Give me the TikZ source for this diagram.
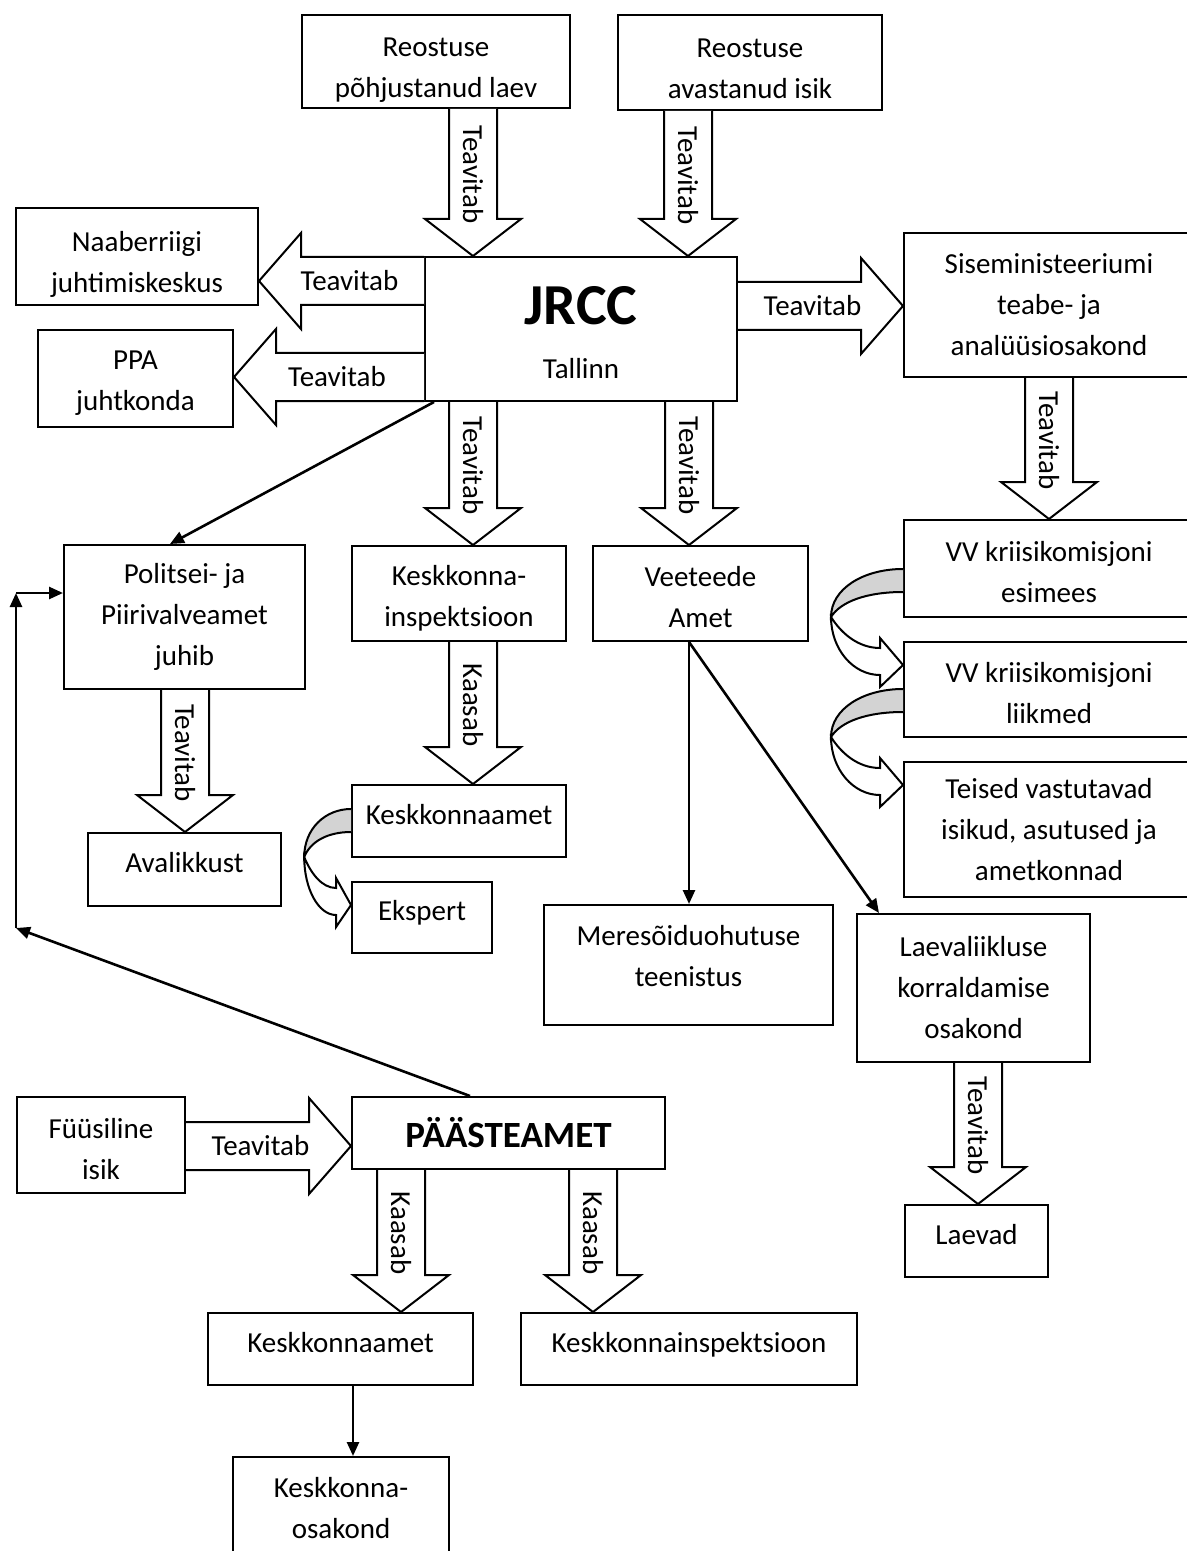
\documentclass[tikz,border=0pt]{standalone}
\usepackage{fontspec}
\setmainfont{Carlito}
\usepackage{tikz}
\usetikzlibrary{arrows.meta,calc}
\definecolor{ink}{HTML}{000000}
\definecolor{shade}{HTML}{D3D3D3}
\tikzset{
  >={Triangle[length=7pt,width=6pt]},
  every node/.style={font=\fontsize{14.5pt}{20.5pt}\selectfont,text=ink},
  box/.style={draw=ink,line width=1pt,fill=white,align=center,inner sep=2pt},
  onebox/.style={box,text depth=7pt},
  fat/.style={draw=ink,line width=1pt,fill=white,line join=miter},
  link/.style={->,draw=ink,line width=1.3pt},
  band/.style={draw=ink,line width=1pt,fill=shade},
  wordlbl/.style={inner sep=0pt},
}
% struts that push the text block down (\up) or up (\dn) inside a box
\newcommand{\up}[1]{\rule{0pt}{#1}}
\newcommand{\dn}[1]{\rule[-#1]{0pt}{#1}}
% hollow block arrows: centre line, start anchor, tip anchor, label
\newcommand{\vblock}[4]{%
  \coordinate (bs) at (#1,0 |- #2);
  \coordinate (bt) at (#1,0 |- #3);
  \draw[fat] ($(bs)+(-24,0)$) -- ($(bt)+(-24,-37)$) -- ($(bt)+(-48,-37)$) -- (bt)
    -- ($(bt)+(48,-37)$) -- ($(bt)+(24,-37)$) -- ($(bs)+(24,0)$);
  \node[wordlbl,rotate=-90] at ($(bs)!0.5!(bt)+(0,-8)$) {#4};
}
\newcommand{\rblock}[4]{%
  \coordinate (bs) at (#2 |- 0,#1);
  \coordinate (bt) at (#3 |- 0,#1);
  \draw[fat] ($(bs)+(0,-24)$) -- ($(bt)+(-42,-24)$) -- ($(bt)+(-42,-48)$) -- (bt)
    -- ($(bt)+(-42,48)$) -- ($(bt)+(-42,24)$) -- ($(bs)+(0,24)$);
  \node[wordlbl] at ($(bs)!0.5!(bt)+(-8,0)$) {#4};
}
\newcommand{\lblock}[4]{%
  \coordinate (bs) at (#2 |- 0,#1);
  \coordinate (bt) at (#3 |- 0,#1);
  \draw[fat] ($(bs)+(0,-24)$) -- ($(bt)+(42,-24)$) -- ($(bt)+(42,-48)$) -- (bt)
    -- ($(bt)+(42,48)$) -- ($(bt)+(42,24)$) -- ($(bs)+(0,24)$);
  \node[wordlbl] at ($(bs)!0.5!(bt)+(8,0)$) {#4};
}
% curved hand-over arrow on the left side of a box
\newcommand{\curvedarr}[2]{%
  \begin{scope}[shift={#1},xscale=#2]
    \filldraw[band] (0,0) .. controls (-40,0) and (-72,20) .. (-72,48)
      .. controls (-62,32) and (-35,23) .. (0,23);
    \filldraw[fat] (-72,48) .. controls (-72,80) and (-50,106) .. (-23,106) -- (-23,118)
      -- (0,96) -- (-23,69) -- (-23,79) .. controls (-45,79) and (-62,64) .. (-72,48) -- cycle;
  \end{scope}}

\begin{document}
\begin{tikzpicture}[x=0.5pt,y=-0.5pt]
  \useasboundingbox (0,0) rectangle (1187,1551);
  % top row
  \node[box,minimum width=134pt,minimum height=46.5pt] (ship) at (436,61.5) {\up{18pt}Reostuse\\põhjustanud laev};
  \node[box,minimum width=132pt,minimum height=47.5pt] (finder) at (750,62.5) {\up{16pt}Reostuse\\avastanud isik};
  \node[box,minimum width=121pt,minimum height=48.5pt] (naaber) at (137,256.5) {\up{18pt}Naaberriigi\\juhtimiskeskus};
  \node[box,minimum width=97.5pt,minimum height=48.5pt] (ppa) at (135.5,378.5) {\up{14pt}PPA\\juhtkonda};
  \node[box,minimum width=156pt,minimum height=72pt] (jrcc) at (581,329)
    {{\fontsize{29pt}{29pt}\selectfont\bfseries\up{22.5pt}JRCC}\\[6.5pt]Tallinn};
  \node[box,minimum width=145pt,minimum height=72pt] (simin) at (1049,305) {Siseministeeriumi\\teabe- ja\\analüüsiosakond};
  % right column
  \node[box,minimum width=145pt,minimum height=48.5pt] (vvchair) at (1049,568.5) {\up{14pt}VV kriisikomisjoni\\esimees};
  \node[box,minimum width=145pt,minimum height=47.5pt] (vvmembers) at (1049,689.5) {\up{14pt}VV kriisikomisjoni\\liikmed};
  \node[box,minimum width=145pt,minimum height=67.5pt] (others) at (1049,829.5) {Teised vastutavad\\isikud, asutused ja\\ametkonnad};
  % middle
  \node[box,minimum width=120.5pt,minimum height=72pt] (politsei) at (184.5,617) {Politsei- ja\\Piirivalveamet\\juhib};
  \node[onebox,minimum width=96.5pt,minimum height=36.5pt] (avalik) at (184.5,869.5) {Avalikkust};
  \node[box,minimum width=107pt,minimum height=47.5pt] (kki) at (459,593.5) {\up{15pt}Keskkonna-\\inspektsioon};
  \node[onebox,minimum width=107pt,minimum height=36pt] (kaamet) at (459,821) {Keskkonnaamet};
  \node[onebox,minimum width=70pt,minimum height=35.5pt] (ekspert) at (422,917.5) {Ekspert};
  \node[box,minimum width=107.5pt,minimum height=47.5pt] (veeteede) at (700.5,593.5) {\up{14pt}Veeteede\\Amet};
  \node[box,minimum width=144.5pt,minimum height=60pt] (meres) at (688.5,965) {Meresõiduohutuse\\teenistus\dn{9pt}};
  \node[box,minimum width=116.5pt,minimum height=74pt] (laevaliik) at (973.5,988) {Laevaliikluse\\korraldamise\\osakond};
  \node[onebox,minimum width=71.5pt,minimum height=36pt] (laevad) at (976.5,1241) {Laevad};
  % bottom part
  \node[box,minimum width=84pt,minimum height=48pt] (fyys) at (101,1145) {\up{14pt}Füüsiline\\isik};
  \node[box,minimum width=156.5pt,minimum height=36pt,font=\fontsize{18.5pt}{22pt}\selectfont\bfseries] (paaste) at (508.5,1133) {PÄÄSTEAMET};
  \node[onebox,minimum width=132.5pt,minimum height=36pt] (kaamet2) at (340.5,1349) {Keskkonnaamet};
  \node[onebox,minimum width=168pt,minimum height=36pt] (kki2) at (689,1349) {Keskkonnainspektsioon};
  \node[box,minimum width=108pt,minimum height=51.5pt] (kosak) at (341,1508.5) {Keskkonna-\\osakond};

  % block arrows
  \vblock{473}{ship.south}{jrcc.north}{Teavitab}
  \vblock{688}{finder.south}{jrcc.north}{Teavitab}
  \lblock{281}{jrcc.west}{naaber.east}{Teavitab}
  \lblock{377}{jrcc.west}{ppa.east}{Teavitab}
  \rblock{306}{jrcc.east}{simin.west}{Teavitab}
  \vblock{473}{jrcc.south}{kki.north}{Teavitab}
  \vblock{689}{jrcc.south}{veeteede.north}{Teavitab}
  \vblock{1049}{simin.south}{vvchair.north}{Teavitab}
  \vblock{185}{politsei.south}{avalik.north}{Teavitab}
  \vblock{473}{kki.south}{kaamet.north}{Kaasab}
  \rblock{1146}{fyys.east}{paaste.west}{Teavitab}
  \vblock{401}{paaste.south}{kaamet2.north}{Kaasab}
  \vblock{593}{paaste.south}{kki2.north}{Kaasab}
  \vblock{978}{laevaliik.south}{laevad.north}{Teavitab}

  % curved arrows
  \curvedarr{(vvchair.west |- 0,569)}{1}
  \curvedarr{(vvmembers.west |- 0,689)}{1}
  \curvedarr{(kaamet.west |- 0,809)}{0.65}

  % plain connectors
  \coordinate (bend1) at (16,928);
  \coordinate (bend2) at (16,593);
  \draw[link] ($(jrcc.south west)+(10,0)$) -- (170,0 |- politsei.north);
  \draw[link] (689,0 |- veeteede.south) -- (689,0 |- meres.north);
  \draw[link] (689,0 |- veeteede.south) -- ($(laevaliik.north west)+(23,0)$);
  \draw[link] (470,0 |- paaste.north) -- (bend1);
  \draw[link] (bend1) -- (bend2);
  \draw[link] (bend2) -- (bend2 -| politsei.west);
  \draw[link] (353,0 |- kaamet2.south) -- (353,0 |- kosak.north);
\end{tikzpicture}
\end{document}
